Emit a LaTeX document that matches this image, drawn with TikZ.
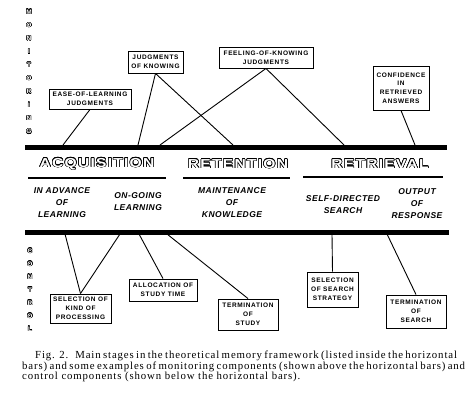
\documentclass[tikz,border=0pt]{standalone}
\usepackage{fontspec}
\setmainfont{Liberation Serif}
\newfontfamily\capfont[LetterSpace=8]{Liberation Serif}
\newfontfamily\boxfont[LetterSpace=10,UprightFont={* Bold}]{Liberation Sans}
\newfontfamily\stagefont[LetterSpace=6,UprightFont={* Bold Italic}]{Liberation Sans}
\newfontfamily\headfont[LetterSpace=8,UprightFont={* Bold}]{Liberation Sans}
\newfontfamily\sidefont[UprightFont={* Bold}]{Liberation Sans}
\usepackage{contour}
\contourlength{0.5pt}
\def\capline(#1,#2,#3,#4){
  \node[anchor=base west, inner sep=0pt, font=\capfont\fontsize{10.8}{12}\selectfont] (#1) at (#2,#3) {#4};
}

\begin{document}
\begin{tikzpicture}[x=1pt,y=-1pt,
  mbox/.style={draw, line width=0.9pt, align=center, inner sep=0pt, font=\boxfont\fontsize{6.5}{8.8}\selectfont},
  stage/.style={align=center, inner sep=0pt, font=\stagefont\fontsize{8.5}{12}\selectfont},
  head/.style={text=white, inner sep=0pt, font=\headfont\fontsize{13}{13}\selectfont},
  vlet/.style={text=white, inner sep=0pt, font=\sidefont\fontsize{6.5}{6.5}\selectfont},
  bar/.style={line width=5pt},
  link/.style={line width=0.9pt}]
\useasboundingbox (0,0) rectangle (475,400);
% side labels
\foreach \c [count=\i] in {M,O,N,I,T,O,R,I,N,G}
  \node[vlet] (mon\i) at (29,{12+13.3*(\i-1)}) {\contourlength{0.35pt}\contour{black}{\c}};
\foreach \c [count=\i] in {C,O,N,T,R,O,L}
  \node[vlet] (ctl\i) at (30,{251+13*(\i-1)}) {\contourlength{0.35pt}\contour{black}{\c}};
% bars
\draw[bar] (25,147) -- (447,147);
\draw[bar] (25,232) -- (449,232);
\coordinate (t1) at (63,145);
\coordinate (t2) at (138,145);
\coordinate (t3) at (233,145);
\coordinate (t4) at (160,145);
\coordinate (t5) at (344,145);
\coordinate (t6) at (415,145);
\coordinate (b1) at (65,234);
\coordinate (b2) at (120,234);
\coordinate (b3) at (139,234);
\coordinate (b4) at (167,234);
\coordinate (b5) at (332,234);
\coordinate (b6) at (387,234);
% stages
\node[head] (acq) at (97,164) {\scalebox{1.2}[1]{\contour{black}{ACQUISITION}}};
\node[head] (ret) at (238,164) {\scalebox{1.2}[1]{\contour{black}{RETENTION}}};
\node[head] (rtv) at (380,164) {\scalebox{1.2}[1]{\contour{black}{RETRIEVAL}}};
\draw[line width=1.2pt] (28,178) -- (166,178);
\draw[line width=1.2pt] (183,178) -- (290,178);
\draw[line width=1.2pt] (303,177) -- (443,177);
\node[stage] (adv) at (62,203) {IN ADVANCE\\OF\\LEARNING};
\node[stage] (ongo) at (138,202) {ON-GOING\\LEARNING};
\node[stage] (mnt) at (232,203) {MAINTENANCE\\OF\\KNOWLEDGE};
\node[stage] (self) at (343,205) {SELF-DIRECTED\\SEARCH};
\node[stage] (outp) at (417,204) {OUTPUT\\OF\\RESPONSE};
% monitoring
\node[mbox, minimum width=82, minimum height=20] (ease) at (90,99) {EASE-OF-LEARNING\\JUDGMENTS};
\node[mbox, minimum width=55, minimum height=22] (jok) at (155.5,62) {JUDGMENTS\\OF KNOWING};
\node[mbox, minimum width=94, minimum height=21] (fok) at (266,57.5) {FEELING-OF-KNOWING\\JUDGMENTS};
\node[mbox, minimum width=56, minimum height=44] (conf) at (401,88) {CONFIDENCE\\IN\\RETRIEVED\\ANSWERS};
\draw[link] (ease.south) -- (t1);
\draw[link] (jok.south) -- (t2);
\draw[link] (jok.south) -- (t3);
\draw[link] (fok.south) -- (t4);
\draw[link] (fok.south) -- (t5);
\draw[link] (conf.south) -- (t6);
% control
\node[mbox, minimum width=61, minimum height=29] (kind) at (80.5,308.5) {SELECTION OF\\KIND OF\\PROCESSING};
\node[mbox, minimum width=68, minimum height=22] (alloc) at (163,290) {ALLOCATION OF\\STUDY TIME};
\node[mbox, minimum width=60, minimum height=31] (tstudy) at (248,314.5) {TERMINATION\\OF\\STUDY};
\node[mbox, minimum width=51, minimum height=35] (strat) at (332.5,289.5) {SELECTION\\OF SEARCH\\STRATEGY};
\node[mbox, minimum width=60, minimum height=33] (tsearch) at (416,311.5) {TERMINATION\\OF\\SEARCH};
\draw[link] (kind.north) -- (b1);
\draw[link] (kind.north) -- (b2);
\draw[link] (alloc.north) -- (b3);
\draw[link] (tstudy.north) -- (b4);
\draw[link] (strat.north) -- (b5);
\draw[link] (tsearch.north) -- (b6);
% caption
\capline(cap1,35,358,{\makebox[418pt][s]{Fig. 2.\ \ \ Main stages in the theoretical memory framework (listed inside the horizontal}})
\capline(cap2,22,369,{\makebox[431pt][s]{bars) and some examples of monitoring components (shown above the horizontal bars) and}})
\capline(cap3,22,379.5,{control components (shown below the horizontal bars).})
\end{tikzpicture}
\end{document}
